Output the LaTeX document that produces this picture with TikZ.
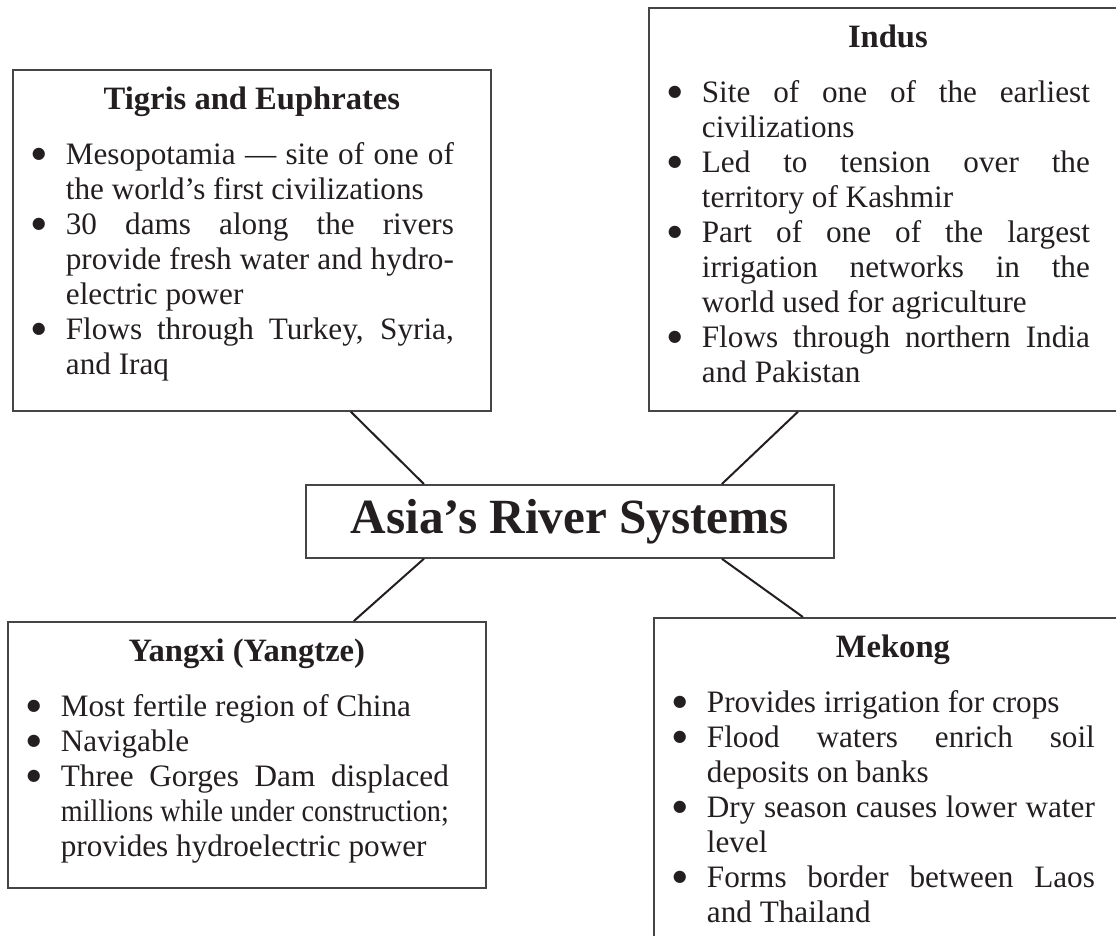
\documentclass[tikz,border=0pt]{standalone}
\usepackage{fontspec}
\setmainfont{Liberation Serif}
\newfontfamily\dotfont{DejaVu Sans}

\definecolor{inkblack}{RGB}{35,31,32}
\definecolor{framegray}{RGB}{70,68,68}

\newlength{\riverwd}
\setlength{\riverwd}{239pt}

\newcommand{\riverdot}{\raisebox{3pt}{\dotfont\fontsize{8pt}{8pt}\selectfont ●}}

\newenvironment{riverpoints}{%
  \begin{list}{\riverdot}{%
    \setlength{\leftmargin}{26.5pt}%
    \setlength{\rightmargin}{18.5pt}%
    \setlength{\labelwidth}{16pt}%
    \setlength{\labelsep}{10pt}%
    \setlength{\itemsep}{0pt}\setlength{\parsep}{0pt}%
    \setlength{\topsep}{0pt}\setlength{\partopsep}{0pt}}}%
  {\end{list}}

% height, title, points
\newcommand{\rivercard}[3]{%
  \begin{minipage}[t][#1][t]{\riverwd}%
    \fontsize{15.6pt}{17.5pt}\selectfont
    \tolerance=10000 \pretolerance=-1 \hyphenpenalty=10000
    {\centering\rule{0pt}{20pt}\fontsize{16.3pt}{17.5pt}\selectfont\textbf{#2}\par}%
    \vspace{10pt}%
    \begin{riverpoints}#3\end{riverpoints}%
  \end{minipage}}

\begin{document}
\begin{tikzpicture}[x=0.5pt,y=-0.5pt,
  riverbox/.style={draw=framegray,line width=0.9pt,anchor=north west,inner sep=0pt,text=inkblack},
  hubbox/.style={draw=framegray,line width=0.9pt,anchor=north west,inner sep=0pt,text=inkblack,
    minimum width=264pt,minimum height=36.5pt,font=\fontsize{24.6pt}{28pt}\selectfont\bfseries},
  link/.style={draw=inkblack,line width=1pt}]

	\path[use as bounding box,clip] (0,0) rectangle (1116,936);

	\node[riverbox] (tigris) at (12,69) {\rivercard{170.5pt}{Tigris and Euphrates}{%
		\item Mesopotamia — site of one of\linebreak the world’s first civilizations
		\item 30 dams along the rivers\linebreak provide fresh water and hydro-\linebreak electric power
		\item Flows through Turkey, Syria,\linebreak and Iraq}};

	\node[riverbox] (indus) at (648,7) {\rivercard{201.5pt}{Indus}{%
		\item Site of one of the earliest\linebreak civilizations
		\item Led to tension over the\linebreak territory of Kashmir
		\item Part of one of the largest\linebreak irrigation networks in the\linebreak world used for agriculture
		\item Flows through northern India\linebreak and Pakistan}};

	\node[hubbox] (hub) at (305,484) {Asia’s River Systems};

	\node[riverbox] (yangxi) at (7,621) {\rivercard{133pt}{Yangxi (Yangtze)}{%
		\item Most fertile region of China
		\item Navigable
		\item Three Gorges Dam displaced\linebreak \resizebox{\linewidth}{\height}{millions while under construction;}\newline provides hydroelectric power}};

	\node[riverbox] (mekong) at (653,617) {\rivercard{170pt}{Mekong}{%
		\item Provides irrigation for crops
		\item Flood waters enrich soil\linebreak deposits on banks
		\item Dry season causes lower water\linebreak level
		\item Forms border between Laos\linebreak and Thailand}};

	\path[link] ([xshift=49.5pt]tigris.south) -- ([xshift=-73pt]hub.north);
	\path[link] ([xshift=-45pt]indus.south) -- ([xshift=76pt]hub.north);
	\path[link] ([xshift=-73pt]hub.south) -- ([xshift=53.5pt]yangxi.north);
	\path[link] ([xshift=76pt]hub.south) -- ([xshift=-45pt]mekong.north);

\end{tikzpicture}
\end{document}
